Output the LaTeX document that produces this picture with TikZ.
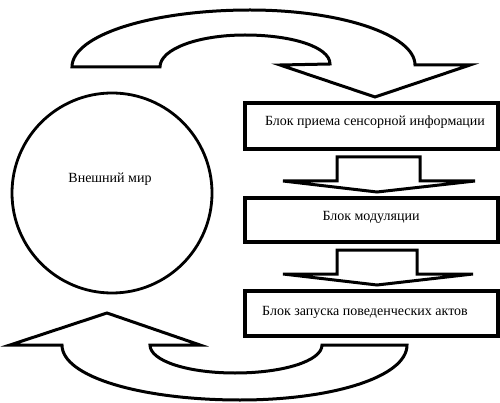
\documentclass[tikz,border=0pt]{standalone}
\usepackage{fontspec}
\setmainfont{Liberation Serif}
\begin{document}
\begin{tikzpicture}[x=1pt,y=-1pt,
  shp/.style={draw=black,line width=3pt,line join=miter,fill=white},
  blockbox/.style={draw=black,line width=3.2pt,fill=white},
  lbl/.style={font=\fontsize{14}{16}\selectfont,inner sep=0pt}]
\useasboundingbox (0,0) rectangle (500,403);
% outer world
\node[draw=black,line width=2.8pt,circle,minimum size=200pt,inner sep=0pt] (world) at (112,193) {};
\node[lbl] (worldt) at (110,179) {Внешний мир};
% blocks
\draw[blockbox] (245,103) rectangle (498,149);
\node[lbl] (b1) at (375,122) {Блок приема сенсорной информации};
\draw[blockbox] (245,198) rectangle (498,242);
\node[lbl] (b2) at (371,217) {Блок модуляции};
\draw[blockbox] (245,291) rectangle (498,336);
\node[lbl] (b3) at (365,312) {Блок запуска поведенческих актов};
% down arrows
\draw[shp] (337,157) -- (420,157) -- (420,181) -- (475,181) -- (377,192) -- (283,181) -- (337,181) -- cycle;
\draw[shp] (337,250) -- (417,250) -- (417,274) -- (473,274) -- (377,285) -- (283,274) -- (337,274) -- cycle;
% top curved arrow
\draw[shp] (72,67) -- (160,67)
  .. controls (160,49) and (198,35) .. (245,35)
  .. controls (292,35) and (330,47) .. (330,64)
  -- (280,65) -- (375,97) -- (470,65) -- (415,65)
  .. controls (415,35) and (341,10) .. (250,10)
  .. controls (152,10) and (72,35) .. cycle;
% bottom curved arrow
\draw[shp] (10,345) -- (107,313) -- (200,345) -- (150,345)
  .. controls (150,361) and (188,373) .. (235,373)
  .. controls (283,373) and (322,361) .. (322,345)
  -- (407,345)
  .. controls (407,377) and (332,400) .. (240,400)
  .. controls (142,400) and (62,377) .. (62,345)
  -- cycle;
\end{tikzpicture}
\end{document}
